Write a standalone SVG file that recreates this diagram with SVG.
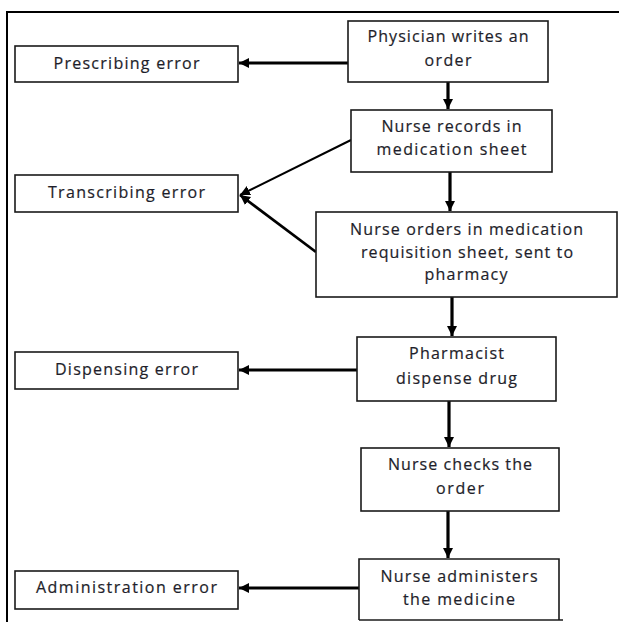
<svg xmlns="http://www.w3.org/2000/svg" width="619" height="622" viewBox="0 0 619 622">
<defs>
<style>
.box{fill:#fff;stroke:#1a1a1a;stroke-width:1.6}
.t{font-family:"Open Sans","Noto Sans",sans-serif;font-size:16px;fill:#1e1e2a;stroke:#1e1e2a;stroke-width:0.2;text-anchor:middle}
.c{fill:none;stroke:#000;stroke-width:3.2}
.thin{fill:none;stroke:#000;stroke-width:2}
.mid{fill:none;stroke:#000;stroke-width:2.8}
</style>
<marker id="ah" markerUnits="userSpaceOnUse" markerWidth="11" markerHeight="11" refX="10" refY="5.5" orient="auto">
<path d="M0,0.5 L10,5.5 L0,10.5 z" fill="#000"/>
</marker>
</defs>
<rect width="619" height="622" fill="#fff"/>
<path d="M7,622 V12 H619" fill="none" stroke="#000" stroke-width="2"/>

<g id="connectors">
<line class="mid" x1="348" y1="63" x2="239" y2="63" marker-end="url(#ah)"/>
<line class="c" x1="448" y1="82" x2="448" y2="109" marker-end="url(#ah)"/>
<line class="thin" x1="351" y1="140" x2="240" y2="195" marker-end="url(#ah)"/>
<line class="mid" x1="316" y1="252" x2="240" y2="195" marker-end="url(#ah)"/>
<line class="c" x1="450" y1="172" x2="450" y2="211" marker-end="url(#ah)"/>
<line class="c" x1="452" y1="297" x2="452" y2="336" marker-end="url(#ah)"/>
<line class="mid" x1="357" y1="370" x2="239" y2="370" marker-end="url(#ah)"/>
<line class="c" x1="449" y1="401" x2="449" y2="447" marker-end="url(#ah)"/>
<line class="c" x1="448" y1="511" x2="448" y2="558" marker-end="url(#ah)"/>
<line class="mid" x1="359" y1="588" x2="239" y2="588" marker-end="url(#ah)"/>
</g>

<g id="physician">
<rect class="box" x="348" y="21" width="200" height="61"/>
<text class="t" x="448" y="41.5" textLength="161">Physician writes an</text>
<text class="t" x="448" y="65.5" textLength="47">order</text>
</g>
<g id="prescribing">
<rect class="box" x="15" y="46" width="223" height="36"/>
<text class="t" x="126.5" y="68.5" textLength="146">Prescribing error</text>
</g>
<g id="nurse-records">
<rect class="box" x="351" y="110" width="201" height="62"/>
<text class="t" x="451.5" y="131.5" textLength="140">Nurse records in</text>
<text class="t" x="451.5" y="154.5" textLength="150">medication sheet</text>
</g>
<g id="transcribing">
<rect class="box" x="15" y="175" width="223" height="37"/>
<text class="t" x="126.5" y="197.5" textLength="157">Transcribing error</text>
</g>
<g id="nurse-orders">
<rect class="box" x="316" y="212" width="301" height="85"/>
<text class="t" x="466.5" y="234.5" textLength="233">Nurse orders in medication</text>
<text class="t" x="467" y="257.5" textLength="212">requisition sheet, sent to</text>
<text class="t" x="466" y="279.5" textLength="83">pharmacy</text>
</g>
<g id="pharmacist">
<rect class="box" x="357" y="337" width="199" height="64"/>
<text class="t" x="456.5" y="358.5" textLength="95">Pharmacist</text>
<text class="t" x="456.5" y="383.5" textLength="121">dispense drug</text>
</g>
<g id="dispensing">
<rect class="box" x="15" y="352" width="223" height="37"/>
<text class="t" x="126.5" y="374.5" textLength="143">Dispensing error</text>
</g>
<g id="nurse-checks">
<rect class="box" x="361" y="448" width="198" height="63"/>
<text class="t" x="460" y="469.5" textLength="144">Nurse checks the</text>
<text class="t" x="460" y="493.5" textLength="48">order</text>
</g>
<g id="nurse-administers">
<path class="box" d="M359,620 V559 H559 V620"/>
<line x1="359" y1="620" x2="563" y2="620" stroke="#1a1a1a" stroke-width="1.6"/>
<text class="t" x="459" y="581.5" textLength="157">Nurse administers</text>
<text class="t" x="459" y="604.5" textLength="112">the medicine</text>
</g>
<g id="administration">
<rect class="box" x="15" y="571" width="223" height="38"/>
<text class="t" x="126.5" y="592.5" textLength="181">Administration error</text>
</g>
</svg>
